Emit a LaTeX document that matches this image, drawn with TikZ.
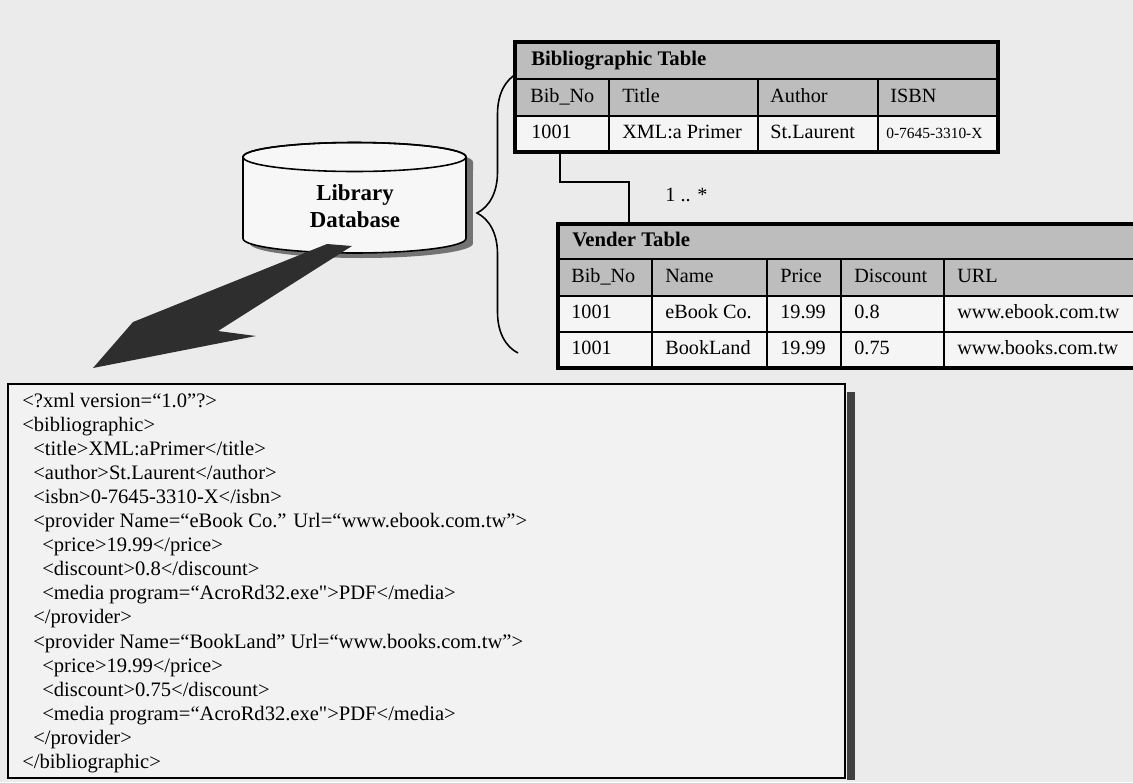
\documentclass[tikz,border=0pt]{standalone}
\usepackage{fontspec}
\setmainfont{Liberation Serif}
\usetikzlibrary{decorations.pathreplacing}

\begin{document}
\begin{tikzpicture}[x=0.02cm,y=-0.02cm]
% Library database exported as an XML document. Coordinates are pixels
% of the scanned figure (1133 x 782), y running downwards.
\tikzset{
  tabframe/.style={draw=black,line width=2pt},
  grid/.style={draw=black,line width=0.9pt},
  headfill/.style={fill=black!26},
  rowfill/.style={fill=black!4},
  cell/.style={anchor=west,inner sep=0pt,text height=8pt,text depth=2.5pt,
    font=\fontsize{11.5}{13}\selectfont},
  tabtitle/.style={cell,font=\fontsize{11.8}{13}\selectfont\bfseries},
  xmlline/.style={anchor=west,inner sep=0pt,text height=8pt,text depth=2.5pt,
    font=\fontsize{11.7}{13.7}\selectfont},
  dbend/.style={x radius=2.23cm,y radius=0.29cm},
  fatarrow/.style={fill=black!82}
}
\useasboundingbox (0,0) rectangle (1133,782);
\fill[black!8] (0,0) rectangle (1133,782);

% Database cylinder (shadow first) and the arrow down to the XML text.
\fill[black!55,shift={(7,5)}] (243,157) -- (243,238.5)
  arc[start angle=180,end angle=360,dbend] -- (466,157)
  arc[start angle=0,end angle=180,dbend] -- cycle;
\draw[line width=0.9pt,fill=black!3] (243,157) -- (243,238.5)
  arc[start angle=180,end angle=360,dbend] -- (466,157)
  arc[start angle=0,end angle=180,dbend] -- cycle;
\draw[line width=0.9pt] (354.5,157) ellipse[dbend];
\node[font=\fontsize{13}{15.4}\selectfont\bfseries,align=center] (libdb)
  at (355,206) {Library\\Database};
\fill[fatarrow] (327,244) -- (352,246) -- (218,331) -- (256,336) -- (93,368)
  -- (133,322) -- (143,318) -- cycle;

% Brace that groups the two tables.
\draw[line width=0.9pt,decorate,decoration={brace,amplitude=0.82cm}]
  (518,353) -- (518,73);

% Bibliographic table.
\fill[headfill] (515,42) rectangle (998,116);
\fill[rowfill] (515,116) rectangle (998,152);
\draw[grid] (515,79) -- (998,79) (515,116) -- (998,116);
\foreach \x in {609,758,878} \draw[grid] (\x,79) -- (\x,152);
\draw[tabframe] (515,42) rectangle (998,152);
\node[tabtitle] (bibname) at (531,60.5) {Bibliographic Table};
\foreach \x/\t [count=\i] in {530/Bib\_No,622/Title,770/Author,890/ISBN}
  \node[cell] (bibh\i) at (\x,97.5) {\t};
\foreach \x/\t [count=\i] in {531/1001,622/XML:a Primer,770/St.Laurent}
  \node[cell] (bibr\i) at (\x,134) {\t};
\node[cell,font=\fontsize{8.8}{10}\selectfont] (bibr4) at (886,134) {0-7645-3310-X};

% Vender table (runs off the right edge).
\fill[headfill] (558,224) rectangle (1140,296);
\fill[rowfill] (558,296) rectangle (1140,368);
\draw[grid] (558,259) -- (1140,259) (558,296) -- (1140,296) (558,332) -- (1140,332);
\foreach \x in {652,767,841,944} \draw[grid] (\x,259) -- (\x,368);
\draw[tabframe] (558,224) rectangle (1140,368);
\node[tabtitle] (vendname) at (572,241.5) {Vender Table};
\foreach \x/\t [count=\i] in {571/Bib\_No,665/Name,780/Price,854/Discount,957/URL}
  \node[cell] (vendh\i) at (\x,277.5) {\t};
\foreach \x/\t [count=\i] in {571/1001,665/eBook Co.,780/19.99,854/0.8,957/www.ebook.com.tw}
  \node[cell] (venda\i) at (\x,314) {\t};
\foreach \x/\t [count=\i] in {571/1001,665/BookLand,780/19.99,854/0.75,957/www.books.com.tw}
  \node[cell] (vendb\i) at (\x,350) {\t};

% One-to-many link.
\coordinate (bibfoot) at (560,152);
\coordinate (vendtop) at (629,224);
\draw[grid] (bibfoot) -- ++(0,30) -| (vendtop);
\node[cell] (mult) at (665,197) {1 .. *};

% XML document.
\fill[black!75] (847,392) rectangle (855,780);
\draw[line width=1.2pt,fill=black!5] (8,384) rectangle (845,778);
\node[xmlline] (x1) at (22,403) {<?xml version=“1.0”?>};
\node[xmlline] (x2) at (22,427) {<bibliographic>};
\node[xmlline] (x3) at (33,451) {<title>XML:aPrimer</title>};
\node[xmlline] (x4) at (33,475) {<author>St.Laurent</author>};
\node[xmlline] (x5) at (33,499) {<isbn>0-7645-3310-X</isbn>};
\node[xmlline] (x6) at (33,523) {<provider Name=“eBook Co.” Url=“www.ebook.com.tw”>};
\node[xmlline] (x7) at (42,547) {<price>19.99</price>};
\node[xmlline] (x8) at (42,571) {<discount>0.8</discount>};
\node[xmlline] (x9) at (42,595) {<media program=“AcroRd32.exe\textquotedbl>PDF</media>};
\node[xmlline] (x10) at (33,619) {</provider>};
\node[xmlline] (x11) at (33,644) {<provider Name=“BookLand” Url=“www.books.com.tw”>};
\node[xmlline] (x12) at (42,668) {<price>19.99</price>};
\node[xmlline] (x13) at (42,692) {<discount>0.75</discount>};
\node[xmlline] (x14) at (42,716) {<media program=“AcroRd32.exe\textquotedbl>PDF</media>};
\node[xmlline] (x15) at (33,740) {</provider>};
\node[xmlline] (x16) at (22,764) {</bibliographic>};
\end{tikzpicture}
\end{document}
